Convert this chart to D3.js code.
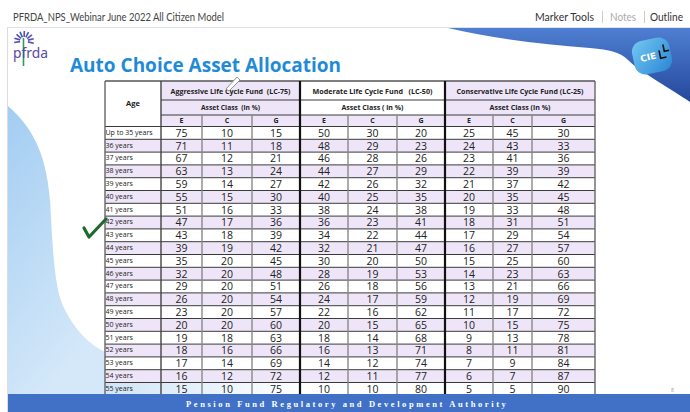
<!DOCTYPE html>
<html>
<head>
<meta charset="utf-8">
<script src="https://cdn.jsdelivr.net/npm/d3@7/dist/d3.min.js"></script>
<style>
body { margin: 0; background: #fff; }
svg { display: block; }
text { white-space: pre; }
</style>
</head>
<body>
<div id="slide"></div>
<script>
// data
var deckTitle = "PFRDA_NPS_Webinar June 2022 All Citizen Model";
var menuItems = ["Marker Tools", "Notes", "Outline"];
var slideTitle = "Auto Choice Asset Allocation";
var footerText = "Pension Fund Regulatory and Development Authority";

var ages = ["Up to 35 years", "36 years", "37 years", "38 years", "39 years", "40 years", "41 years",
    "42 years", "43 years", "44 years", "45 years", "46 years", "47 years", "48 years", "49 years",
    "50 years", "51 years", "52 years", "53 years", "54 years", "55 years"];
var funds = ["Aggressive Life Cycle Fund  (LC-75)", "Moderate Life Cycle Fund   (LC-50)", "Conservative Life Cycle Fund (LC-25)"];
var assetLabels = ["Asset Class  (in %)", "Asset Class ( in %)", "Asset Class (in %)"];
var classes = ["E", "C", "G"];

var aggressiveE = [75, 71, 67, 63, 59, 55, 51, 47, 43, 39, 35, 32, 29, 26, 23, 20, 19, 18, 17, 16, 15];
var aggressiveC = [10, 11, 12, 13, 14, 15, 16, 17, 18, 19, 20, 20, 20, 20, 20, 20, 18, 16, 14, 12, 10];
var aggressiveG = [15, 18, 21, 24, 27, 30, 33, 36, 39, 42, 45, 48, 51, 54, 57, 60, 63, 66, 69, 72, 75];
var moderateE = [50, 48, 46, 44, 42, 40, 38, 36, 34, 32, 30, 28, 26, 24, 22, 20, 18, 16, 14, 12, 10];
var moderateC = [30, 29, 28, 27, 26, 25, 24, 23, 22, 21, 20, 19, 18, 17, 16, 15, 14, 13, 12, 11, 10];
var moderateG = [20, 23, 26, 29, 32, 35, 38, 41, 44, 47, 50, 53, 56, 59, 62, 65, 68, 71, 74, 77, 80];
var conservativeE = [25, 24, 23, 22, 21, 20, 19, 18, 17, 16, 15, 14, 13, 12, 11, 10, 9, 8, 7, 6, 5];
var conservativeC = [45, 43, 41, 39, 37, 35, 33, 31, 29, 27, 25, 23, 21, 19, 17, 15, 13, 11, 9, 7, 5];
var conservativeG = [30, 33, 36, 39, 42, 45, 48, 51, 54, 57, 60, 63, 66, 69, 72, 75, 78, 81, 84, 87, 90];

var series = [aggressiveE, aggressiveC, aggressiveG, moderateE, moderateC, moderateG,
    conservativeE, conservativeC, conservativeG];

// layout
var W = 690, H = 412;
var colEdges = [105, 161, 202, 252, 300, 348, 397, 445, 493, 532, 595]; // age col + 9 value cols
var headTop = 81, head1 = 100, head2 = 115, bodyTop = 126.5, bodyBottom = 395.3;
var lavender = "#eee6f8";
var fundHeadWidths = [120, 120, 127];
var assetWidths = [59, 62, 61];
var fundHeadFill = [lavender, "#fff", lavender];

var svg = d3.select("#slide").append("svg")
    .attr("width", W)
    .attr("height", H);

var defs = svg.append("defs");
var gLeft = defs.append("linearGradient").attr("id", "leftBlue")
    .attr("x1", 0).attr("y1", 0).attr("x2", 0.4).attr("y2", 1);
gLeft.append("stop").attr("offset", "0%").attr("stop-color", "#a3cdf2");
gLeft.append("stop").attr("offset", "100%").attr("stop-color", "#d4e8f9");

var gSwoosh = defs.append("linearGradient").attr("id", "swoosh")
    .attr("x1", 0).attr("y1", 0).attr("x2", 0).attr("y2", 1);
gSwoosh.append("stop").attr("offset", "0%").attr("stop-color", "#4f7fd2");
gSwoosh.append("stop").attr("offset", "100%").attr("stop-color", "#24489c");

var gCiel = defs.append("linearGradient").attr("id", "ciel")
    .attr("x1", 0).attr("y1", 0).attr("x2", 1).attr("y2", 1);
gCiel.append("stop").attr("offset", "0%").attr("stop-color", "#74c8f2");
gCiel.append("stop").attr("offset", "100%").attr("stop-color", "#2a86d4");

var gLast = defs.append("linearGradient").attr("id", "lastRow")
    .attr("x1", 0).attr("y1", 0).attr("x2", 1).attr("y2", 0);
gLast.append("stop").attr("offset", "0%").attr("stop-color", "#cfe4f6");
gLast.append("stop").attr("offset", "100%").attr("stop-color", "#cfe4f6").attr("stop-opacity", 0);

//top bar of the viewer
svg.append("text")
    .attr("x", 13).attr("y", 21)
    .attr("font-family", "Lato").attr("font-size", "12px")
    .attr("fill", "#444")
    .attr("textLength", 211).attr("lengthAdjust", "spacingAndGlyphs")
    .text(deckTitle);

var menuX = [535, 610, 650], menuW = [59, 26, 33], menuCol = ["#333", "#aaa", "#333"];
svg.selectAll(".menu")
    .data(menuItems)
    .enter().append("text")
    .attr("class", "menu")
    .attr("x", function(d, i) { return menuX[i]; })
    .attr("y", 21)
    .attr("font-family", "Lato").attr("font-size", "11px")
    .attr("fill", function(d, i) { return menuCol[i]; })
    .attr("textLength", function(d, i) { return menuW[i]; })
    .attr("lengthAdjust", "spacingAndGlyphs")
    .text(function(d) { return d; });

[602.5, 644.5].forEach(function(x) {
    svg.append("line").attr("x1", x).attr("x2", x).attr("y1", 11).attr("y2", 23)
        .attr("stroke", "#ccc");
});

// slide frame
svg.append("rect").attr("x", 8).attr("y", 28).attr("width", W - 8).attr("height", H - 28)
    .attr("fill", "#fff");
svg.append("line").attr("x1", 7.5).attr("x2", 7.5).attr("y1", 27).attr("y2", H).attr("stroke", "#ddd");
svg.append("line").attr("x1", 7).attr("x2", W).attr("y1", 27.5).attr("y2", 27.5).attr("stroke", "#e2e2e2");

// decorations
svg.append("path")
    .attr("d", "M8,106 C30,125 46,150 50,200 C53,250 54,290 65,310 C75,330 90,345 105,352 L105,395 L8,395 Z")
    .attr("fill", "url(#leftBlue)");

svg.append("path")
    .attr("d", "M448,28 C490,38 540,44 590,48 C610,50 620,52 628,60 C640,72 670,88 690,102 L690,28 Z")
    .attr("fill", "url(#swoosh)");

var ciel = svg.append("g").attr("transform", "translate(652,56) rotate(-12)");
ciel.append("rect").attr("x", -19).attr("y", -17).attr("width", 38).attr("height", 34)
    .attr("rx", 11).attr("fill", "url(#ciel)");
ciel.append("text").attr("x", -4).attr("y", 3.5)
    .attr("text-anchor", "middle")
    .attr("font-family", "DejaVu Sans").attr("font-weight", "bold").attr("font-size", "9px")
    .attr("fill", "#fff").text("CIE");
ciel.append("path").attr("d", "M8,-4 L8,4 L14,4 M13,-9 L13,-2 L18,-2")
    .attr("fill", "none").attr("stroke", "#111").attr("stroke-width", 1.6);

// pfrda logo
var logo = svg.append("g");
d3.range(9).forEach(function(k) {
    var a = Math.PI * (0.95 + k * 0.14);
    logo.append("line")
        .attr("x1", 24 + Math.cos(a) * 4).attr("y1", 41 + Math.sin(a) * 4)
        .attr("x2", 24 + Math.cos(a) * 10).attr("y2", 41 + Math.sin(a) * 10)
        .attr("stroke", k % 2 ? "#3b5db8" : "#6a4aa8").attr("stroke-width", 1.6);
});
logo.append("line").attr("x1", 23.5).attr("x2", 23.5).attr("y1", 38).attr("y2", 66)
    .attr("stroke", "#2e9b5a").attr("stroke-width", 1.6);
logo.append("text").attr("x", 13).attr("y", 58)
    .attr("font-family", "Noto Sans").attr("font-size", "14px")
    .attr("fill", "#5a4aa0")
    .attr("textLength", 35).attr("lengthAdjust", "spacingAndGlyphs")
    .text("pfrda");

// title
svg.append("text")
    .attr("x", 70).attr("y", 72)
    .attr("font-family", "Open Sans").attr("font-weight", "bold").attr("font-size", "19.5px")
    .attr("fill", "#1f8bd8")
    .attr("textLength", 271).attr("lengthAdjust", "spacingAndGlyphs")
    .text(slideTitle);

// table
var y = d3.scaleLinear().domain([0, ages.length]).range([bodyTop, bodyBottom]);
var x = d3.scaleOrdinal().domain(d3.range(colEdges.length)).range(colEdges);
var rowH = y(1) - y(0);
var table = svg.append("g").attr("class", "table");

// header fills
table.append("rect").attr("x", x(0)).attr("y", headTop).attr("width", x(1) - x(0)).attr("height", bodyTop - headTop)
    .attr("fill", "#fff");
funds.forEach(function(f, i) {
    var x0 = x(1 + i * 3), x1 = x(4 + i * 3);
    table.append("rect").attr("x", x0).attr("y", headTop).attr("width", x1 - x0).attr("height", head2 - headTop)
        .attr("fill", fundHeadFill[i]);
    table.append("rect").attr("x", x0).attr("y", head2).attr("width", x1 - x0).attr("height", bodyTop - head2)
        .attr("fill", lavender);
});

// body stripes
table.selectAll(".stripe")
    .data(ages)
    .enter().append("rect")
    .attr("class", "stripe")
    .attr("x", x(0)).attr("y", function(d, i) { return y(i); })
    .attr("width", x(10) - x(0)).attr("height", rowH)
    .attr("fill", function(d, i) { return i % 2 ? lavender : "#fff"; });

table.append("rect")
    .attr("x", x(0)).attr("y", y(ages.length - 1))
    .attr("width", x(4) - x(0)).attr("height", rowH)
    .attr("fill", "url(#lastRow)");

// header text
var headFont = "Open Sans";
table.append("text")
    .attr("x", (x(0) + x(1)) / 2).attr("y", 103).attr("dy", "0.35em")
    .attr("text-anchor", "middle")
    .attr("font-family", headFont).attr("font-weight", "bold").attr("font-size", "7.5px")
    .attr("fill", "#222").text("Age");

table.selectAll(".fundHead")
    .data(funds)
    .enter().append("text")
    .attr("class", "fundHead")
    .attr("x", function(d, i) { return (x(1 + i * 3) + x(4 + i * 3)) / 2; })
    .attr("y", (headTop + head1) / 2 + 0.5).attr("dy", "0.35em")
    .attr("text-anchor", "middle")
    .attr("font-family", headFont).attr("font-weight", "bold").attr("font-size", "7.5px")
    .attr("fill", "#222")
    .attr("textLength", function(d, i) { return fundHeadWidths[i]; })
    .attr("lengthAdjust", "spacingAndGlyphs")
    .text(function(d) { return d; });

table.selectAll(".assetHead")
    .data(assetLabels)
    .enter().append("text")
    .attr("class", "assetHead")
    .attr("x", function(d, i) { return (x(1 + i * 3) + x(4 + i * 3)) / 2; })
    .attr("y", (head1 + head2) / 2).attr("dy", "0.35em")
    .attr("text-anchor", "middle")
    .attr("font-family", headFont).attr("font-weight", "bold").attr("font-size", "7px")
    .attr("fill", "#222")
    .attr("textLength", function(d, i) { return assetWidths[i]; })
    .attr("lengthAdjust", "spacingAndGlyphs")
    .text(function(d) { return d; });

table.selectAll(".classHead")
    .data(d3.range(9))
    .enter().append("text")
    .attr("class", "classHead")
    .attr("x", function(j) { return (x(j + 1) + x(j + 2)) / 2; })
    .attr("y", (head2 + bodyTop) / 2).attr("dy", "0.35em")
    .attr("text-anchor", "middle")
    .attr("font-family", headFont).attr("font-weight", "bold").attr("font-size", "7px")
    .attr("fill", "#222")
    .text(function(j) { return classes[j % 3]; });

// age labels
table.selectAll(".age")
    .data(ages)
    .enter().append("text")
    .attr("class", "age")
    .attr("x", x(0) + 0.5)
    .attr("y", function(d, i) { return y(i) + rowH / 2 - 0.5; }).attr("dy", "0.35em")
    .attr("font-family", "Open Sans").attr("font-size", "7px")
    .attr("fill", "#222")
    .text(function(d) { return d; });

// values
var cells = [];
ages.forEach(function(a, i) {
    series.forEach(function(s, j) { cells.push({ row: i, col: j, v: s[i] }); });
});
table.selectAll(".val")
    .data(cells)
    .enter().append("text")
    .attr("class", "val")
    .attr("x", function(d) { return (x(d.col + 1) + x(d.col + 2)) / 2; })
    .attr("y", function(d) { return y(d.row) + rowH / 2 + 0.3; }).attr("dy", "0.35em")
    .attr("text-anchor", "middle")
    .attr("font-family", "Open Sans").attr("font-size", "10.5px")
    .attr("fill", "#222")
    .text(function(d) { return d.v; });

// grid lines
var hLines = d3.range(ages.length + 1).map(function(i) { return y(i); });
table.selectAll(".hline")
    .data(hLines)
    .enter().append("line")
    .attr("class", "hline")
    .attr("x1", x(0)).attr("x2", x(10))
    .attr("y1", function(d) { return d; }).attr("y2", function(d) { return d; })
    .attr("stroke", "#3a3a3a").attr("stroke-width", 1);

[head1, head2].forEach(function(h) {
    table.append("line").attr("x1", x(1)).attr("x2", x(10)).attr("y1", h).attr("y2", h)
        .attr("stroke", "#3a3a3a").attr("stroke-width", 1);
});
table.append("line").attr("x1", x(0)).attr("x2", x(10)).attr("y1", headTop).attr("y2", headTop)
    .attr("stroke", "#555").attr("stroke-width", 1.3);

table.selectAll(".vline")
    .data(colEdges)
    .enter().append("line")
    .attr("class", "vline")
    .attr("x1", function(d) { return d; }).attr("x2", function(d) { return d; })
    .attr("y1", function(d, i) { return (i === 0 || i === 1 || i % 3 === 1) ? headTop : head2; })
    .attr("y2", bodyBottom)
    .attr("stroke", function(d, i) {
        if (i === 4 || i === 7) return "#111";
        if (i === 0 || i === 10) return "#666";
        if (i === 1) return "#444";
        return "#888";
    })
    .attr("stroke-width", function(d, i) { return (i === 4 || i === 7) ? 2.2 : 1.4; });

// pen cursor and check mark
svg.append("path").attr("d", "M226,89 L237,77 L240,80 L229,91 Z")
    .attr("fill", "#fff").attr("stroke", "#888").attr("stroke-width", 0.9);
svg.append("path").attr("d", "M84,228 L89,237 L106,219")
    .attr("fill", "none").attr("stroke", "#1e6a2c").attr("stroke-width", 3.2)
    .attr("stroke-linecap", "round").attr("stroke-linejoin", "round");

// footer
svg.append("rect").attr("x", 8).attr("y", 394).attr("width", W - 8).attr("height", H - 394)
    .attr("fill", "#4171c6");
svg.append("text")
    .attr("x", 186).attr("y", 406.5)
    .attr("font-family", "Liberation Serif").attr("font-weight", "bold").attr("font-size", "8.5px")
    .attr("fill", "#fff")
    .attr("letter-spacing", "2.2px")
    .attr("textLength", 322).attr("lengthAdjust", "spacing")
    .text(footerText);
svg.append("text").attr("x", 671).attr("y", 392)
    .attr("font-family", "Open Sans").attr("font-size", "5px").attr("fill", "#999").text("8");
</script>
</body>
</html>
